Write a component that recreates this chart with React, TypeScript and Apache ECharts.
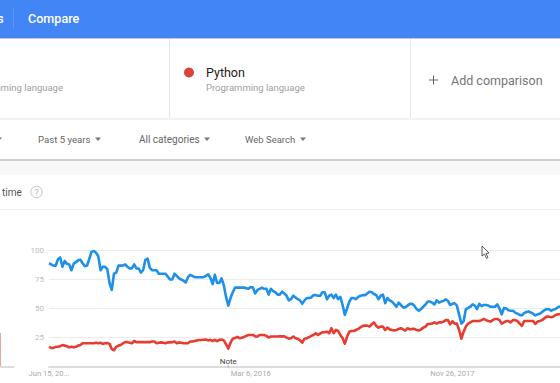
import React, { useEffect, useRef } from "react";
import * as echarts from "echarts";

const blueValues = [
  89,88,87,87,92.5,94,86,91,88.5,88,83,88.5,90,91.5,92,89,86.5,87,93,99,99.5,98,95,83,86,86,84,72,66,80,
  81,87,87,87,88,86,84.5,84.5,88,84.5,84.5,81,83,92,93,85,83,83,83,80,80,80,80,77.5,75,75,80,78,76,75,74,72.5,77,
  79,78,77,77,77,77,77,78,79.5,76.5,71,79,72,72,76,70,60,52.5,59,64,68,68,68,68,68,67.5,67,68.5,68,63,66,67,68,67,67,62,67,65,64,62,62,64.5,63,61,57,58,61,59.5,58,57,54,57,59,59,59.5,61.5,61.5,61,61,64,64,58,61,62,59,62,58,60,53,44.5,50,56,59,59,58,60,61,61.5,61.5,63,64.5,64,62.5,61.5,58,
  61,62,54.5,59,57,56,54,51.5,55,53,51,51,52.5,54,54,52.5,49.5,48,49.5,51.5,53.5,56,56,55,53.5,57,55,56,56.5,58,56.5,53,54,54.5,52.5,44.5,37,39,49.5,50.5,51.5,53.5,52.5,49.5,54,52,53,53,52.5,51.5,51.5,51.5,53.5,50,45,50.5,50,48.5,48,48,46.5,45.5,44.5,44,46,47,47.5,46.5,45.5,44,45,45.5,47,48.5,49.5,49.5,48,49,49.5,51,52,
];
const redValues = [
  17,16,16,17,17,17.5,18.5,18,17.5,16.5,17,16.5,17,18,18.5,20,20,20,20,20,20,20.5,20,20.5,19.5,20,20.3,19.5,15,14,17,18,18.5,
  20,21,21,20.5,20,22,21,21,21,21,21,21,21,21.5,21.5,20,20.5,20.8,20.5,20,20.8,20.8,21,21.5,20,20.8,20.5,20,20,20,
  21.5,21.5,22,22.5,22.8,22.8,23,23.2,22.5,23,22,23,21.8,23,23.2,22.5,19,15.5,20.5,24,24.5,25.5,24.4,24.8,25.5,26.4,27.2,27.2,27.2,26,25.8,27.2,27.2,27.2,26.4,25,25.8,25.8,25.8,25.8,26,26,26,24.9,24,24.4,25.8,24.4,24,22.5,20.5,24,24.4,25.2,26.4,27.2,28.7,27.2,28.4,29.5,29.5,30,28.7,33,28.7,31.5,30.6,27.2,24.4,19.7,25.8,30,30.6,30.6,31.5,32.4,33.8,35,35.2,35.2,34.4,
  36.4,38,35,33.5,34.4,34.4,31.5,33.5,32,31.5,31,31.5,32.4,33,32,31,33,32,32.4,32.4,31.5,31,32,33.5,34.4,36.7,36.7,37,38,37,38,38,38.7,40,40,36.4,39,37,37,31.5,24,30,34.4,37,38,39.2,39.2,39.2,39.2,40,41,40,39.2,38.7,40,41,41,40,37,38,39.2,39.2,38,40,40,39.2,37,35,39.2,39.2,39.2,39.2,39.2,36.7,38.7,39.2,40,41.5,43,43,42.4,43,44.4,45,45,
];
const dateTicks = ["Jun 15, 20...", "Mar 6, 2016", "Nov 26, 2017"];
const weekCategories = blueValues.map((_, i) => (i % 90 === 0 ? dateTicks[i / 90] : "week " + i));

const FONT = "Roboto, Arial, sans-serif";
const label = (text: string, x: number, y: number, size: number, fill: string, extra: any = {}) => ({
  type: "text",
  x,
  y,
  style: { text, fill, font: `${extra.weight || 400} ${size}px ${FONT}`, textAlign: extra.align || "left", textVerticalAlign: "middle" },
});
const box = (x: number, y: number, width: number, height: number, fill: string) => ({
  type: "rect",
  shape: { x, y, width, height },
  style: { fill },
});
const caret = (x: number, y: number) => ({
  type: "polygon",
  shape: { points: [[x, y], [x + 6, y], [x + 3, y + 3.5]] },
  style: { fill: "#777" },
});

export default function App() {
  const ref = useRef<HTMLDivElement>(null);
  useEffect(() => {
    const chart = echarts.init(ref.current!, null, { renderer: "svg" });
    chart.setOption({
      animation: false,
      backgroundColor: "#fff",
      grid: { left: 49, right: 0, top: 250.5, bottom: 16.5 },
      xAxis: {
        type: "category",
        data: weekCategories,
        boundaryGap: false,
        axisLine: { lineStyle: { color: "#dcdcdc", width: 2 } },
        axisTick: { show: false },
        axisLabel: { interval: 89, color: "#aaa", fontSize: 7.6, fontFamily: FONT, margin: 3 },
      },
      yAxis: {
        type: "value",
        min: 0,
        max: 100,
        interval: 25,
        axisLine: { show: false },
        axisTick: { show: false },
        splitLine: { lineStyle: { color: "#ececec", width: 1 } },
        axisLabel: {
          color: "#bbb",
          fontSize: 8,
          fontFamily: FONT,
          margin: 5,
          formatter: (v: number) => (v === 0 ? "" : String(v)),
        },
      },
      series: [
        {
          name: "Blue",
          type: "line",
          data: blueValues,
          symbol: "none",
          lineStyle: { color: "#1f90e8", width: 2.6, join: "round" },
          markPoint: {
            silent: true,
            symbol: "rect",
            symbolSize: [1, 3],
            itemStyle: { color: "#bbb" },
            label: { show: true, formatter: "Note", position: "top", distance: 0, color: "#444", fontSize: 8, fontFamily: FONT },
            data: [{ coord: [80, 0] }],
          },
        },
        {
          name: "Python",
          type: "line",
          data: redValues,
          symbol: "none",
          lineStyle: { color: "#e83c30", width: 2.6, join: "round" },
        },
      ],
      graphic: [
        box(0, 0, 560, 38, "#4285f4"),
        box(0, 38, 560, 1, "#c4c8cc"),
        box(13, 8, 1, 21, "#5b95f5"),
        label("s", -3, 18, 13, "#fff", { weight: 500 }),
        label("Compare", 28, 18, 12.6, "#fff", { weight: 500 }),
        box(169, 39, 1, 79, "#e6e6e6"),
        box(410, 39, 1, 79, "#e6e6e6"),
        box(0, 118, 560, 2, "#f2f2f2"),
        label("Programming language", 63, 87.5, 9.5, "#9e9e9e", { align: "right" }),
        { type: "circle", shape: { cx: 189, cy: 72.5, r: 5 }, style: { fill: "#db4437" } },
        label("Python", 206, 72.5, 12.5, "#222"),
        label("Programming language", 206, 87.5, 9.5, "#9e9e9e"),
        box(429, 79.5, 9, 1, "#666"),
        box(433, 75.5, 1, 9, "#666"),
        label("Add comparison", 451, 80.5, 12.5, "#757575"),
        caret(-4, 137.5),
        label("Past 5 years", 38, 139.5, 9.6, "#666"),
        caret(95, 137.5),
        label("All categories", 139, 139.5, 10, "#666"),
        caret(204, 137.5),
        label("Web Search", 245, 139.5, 9.5, "#666"),
        caret(300, 137.5),
        box(0, 159, 560, 2, "#cfcfcf"),
        box(0, 161, 560, 14, "#f8f8f8"),
        label("time", 2, 192, 10, "#555"),
        { type: "circle", shape: { cx: 36.5, cy: 192, r: 5.7 }, style: { fill: "none", stroke: "#c4c4c4", lineWidth: 1 } },
        label("?", 36.5, 192.5, 9, "#bbb", { align: "center" }),
        box(0, 209, 560, 1, "#eeeeee"),
        box(0, 333, 1, 34, "#e3aaa5"),
        box(0, 366, 14, 2, "#dcdcdc"),
        {
          type: "polygon",
          shape: { points: [[482, 246], [482, 256], [484.5, 254], [486.5, 258.5], [488, 257.5], [486, 253.5], [489, 253]] },
          style: { fill: "#fff", stroke: "#333", lineWidth: 0.8 },
          z: 20,
        },
      ],
    });
    return () => chart.dispose();
  }, []);
  return <div ref={ref} style={{ position: "fixed", left: 0, top: 0, width: 560, height: 383 }} />;
}
